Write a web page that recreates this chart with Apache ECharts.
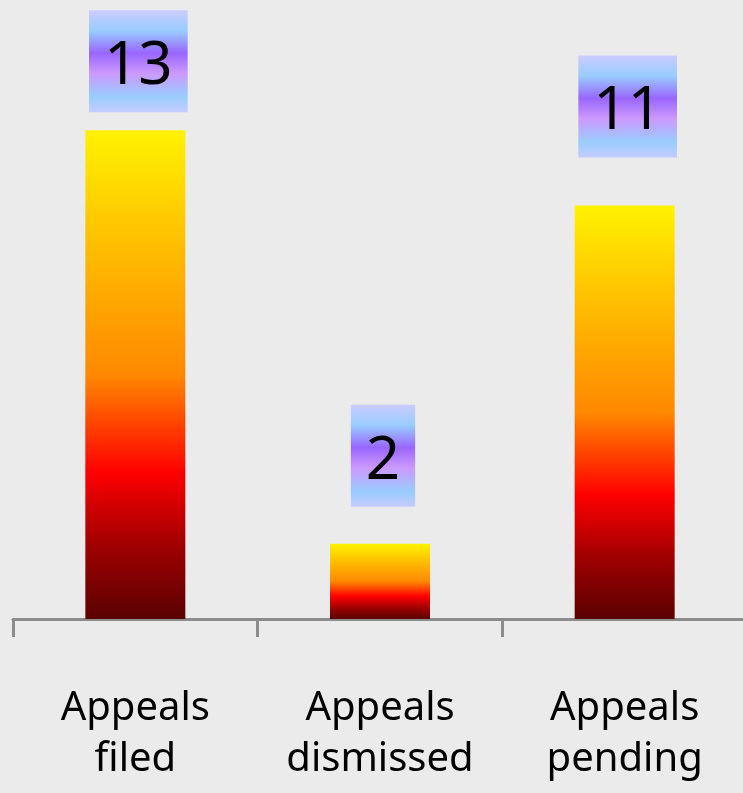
<!DOCTYPE html>
<html>
<head>
<meta charset="utf-8">
<script src="https://cdn.jsdelivr.net/npm/echarts@6/dist/echarts.min.js"></script>
<style>
html,body{margin:0;padding:0;background:#ebebeb;}
#c{width:743px;height:793px;}
</style>
</head>
<body>
<div id="c"></div>
<script>
var categories = ["Appeals\nfiled", "Appeals\ndismissed", "Appeals\npending"];
var values = [13, 2, 11];
var labelGaps = [18, 37, 48];

var chart = echarts.init(document.getElementById('c'), null, {renderer: 'canvas'});

var barGradient = new echarts.graphic.LinearGradient(0, 0, 0, 1, [
  {offset: 0, color: '#fff200'},
  {offset: 0.25, color: '#ffbb00'},
  {offset: 0.5, color: '#ff8800'},
  {offset: 0.7, color: '#ff0000'},
  {offset: 0.85, color: '#a00000'},
  {offset: 1, color: '#5a0202'}
]);
var labelGradient = new echarts.graphic.LinearGradient(0, 0, 0, 1, [
  {offset: 0, color: '#ccccff'},
  {offset: 0.2, color: '#99ccff'},
  {offset: 0.42, color: '#9966ff'},
  {offset: 0.62, color: '#cc99ff'},
  {offset: 0.85, color: '#99ccff'},
  {offset: 1, color: '#c6ccff'}
]);

var seriesData = values.map(function (v, i) {
  return {value: v, label: {distance: labelGaps[i]}};
});

chart.setOption({
  backgroundColor: '#ebebeb',
  animation: false,
  grid: {left: 13, right: -4, top: 55, bottom: 174, containLabel: false, outerBoundsMode: 'none'},
  xAxis: {
    type: 'category',
    data: categories,
    axisLine: {show: true, lineStyle: {color: '#8c8c8c', width: 3}},
    axisTick: {show: true, length: 18, lineStyle: {color: '#8c8c8c', width: 3}},
    axisLabel: {
      color: '#000', fontFamily: 'Noto Sans', fontSize: 40, lineHeight: 51,
      margin: 64, interval: 0
    }
  },
  yAxis: {
    type: 'value', min: 0, max: 15,
    show: false,
    splitLine: {show: false}
  },
  series: [{
    type: 'bar',
    data: seriesData,
    barWidth: 100,
    itemStyle: {color: barGradient},
    label: {
      show: true,
      position: 'top',
      offset: [3, 0],
      color: '#000',
      fontFamily: 'Noto Sans',
      fontSize: 60,
      lineHeight: 60,
      padding: [27, 15, 15, 15],
      backgroundColor: labelGradient
    }
  }]
});
</script>
</body>
</html>
